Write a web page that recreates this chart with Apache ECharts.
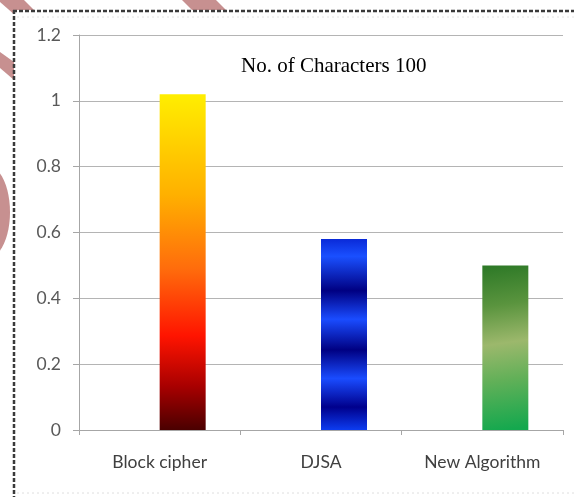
<!DOCTYPE html>
<html>
<head>
<meta charset="utf-8">
<script src="https://cdn.jsdelivr.net/npm/echarts@6/dist/echarts.min.js"></script>
<style>
  html, body { margin: 0; padding: 0; background: #ffffff; }
  #chart { width: 574px; height: 497px; }
</style>
</head>
<body>
<div id="chart"></div>
<script>
// Encryption time for 100 characters, per algorithm
const categories = ['Block cipher', 'DJSA', 'New Algorithm'];
const timeValues = [1.02, 0.58, 0.50];
const yTicks = [0, 0.2, 0.4, 0.6, 0.8, 1, 1.2];
const chartTitle = 'No. of Characters 100';

const pink = '#c79090';

// Per-bar fills
const fills = [
  { type: 'linear', x: 0, y: 0, x2: 0, y2: 1, colorStops: [
    { offset: 0, color: '#ffee00' },
    { offset: 0.3, color: '#ffb000' },
    { offset: 0.52, color: '#ff6c0c' },
    { offset: 0.72, color: '#ff1400' },
    { offset: 0.87, color: '#a80000' },
    { offset: 1, color: '#4a0000' }
  ]},
  { type: 'linear', x: 0, y: 0, x2: 0, y2: 1, colorStops: [
    { offset: 0, color: '#0a2ad8' },
    { offset: 0.09, color: '#1a50ff' },
    { offset: 0.27, color: '#000082' },
    { offset: 0.42, color: '#1a4cff' },
    { offset: 0.58, color: '#000082' },
    { offset: 0.73, color: '#1a4cff' },
    { offset: 0.88, color: '#00008c' },
    { offset: 1, color: '#0c3cf0' }
  ]},
  { type: 'linear', x: 0, y: 0, x2: 0.5, y2: 1, colorStops: [
    { offset: 0, color: '#2c7826' },
    { offset: 0.25, color: '#5a943e' },
    { offset: 0.48, color: '#9cb86c' },
    { offset: 0.7, color: '#62b058' },
    { offset: 1, color: '#14a84e' }
  ]}
];

const chart = echarts.init(document.getElementById('chart'), null, { renderer: 'canvas' });

chart.setOption({
  animation: false,
  backgroundColor: '#ffffff',
  graphic: [
    // page decoration outside the framed area
    { type: 'polygon', z: -10, shape: { points: [[0, 0], [24, 0], [40, 16], [16, 16], [0, 2]] }, style: { fill: pink } },
    { type: 'polygon', z: -10, shape: { points: [[0, 52], [14, 62], [14, 80], [0, 68]] }, style: { fill: pink } },
    { type: 'polygon', z: -10, shape: { points: [[182, 0], [216, 0], [228, 12], [194, 12]] }, style: { fill: pink } },
    { type: 'ellipse', z: -10, shape: { cx: -12, cy: 212, rx: 22, ry: 46 }, style: { fill: pink } },
    // white framed panel
    { type: 'rect', z: -5, shape: { x: 14, y: 10, width: 580, height: 500 }, style: { fill: '#ffffff' } },
    { type: 'line', z: -4, shape: { x1: 13, y1: 11, x2: 574, y2: 11 }, style: { stroke: '#3a3a3a', lineWidth: 2.5, lineDash: [4, 2] } },
    { type: 'line', z: -4, shape: { x1: 14, y1: 10, x2: 14, y2: 497 }, style: { stroke: '#3a3a3a', lineWidth: 2.5, lineDash: [4, 2] } },
    { type: 'line', z: -4, shape: { x1: 17, y1: 17, x2: 574, y2: 17 }, style: { stroke: '#e4e4e4', lineWidth: 1, lineDash: [2, 3] } },
    { type: 'line', z: -4, shape: { x1: 17, y1: 493, x2: 574, y2: 493 }, style: { stroke: '#dedede', lineWidth: 1, lineDash: [2, 3] } },
    // chart caption
    { type: 'text', z: 10, left: 241, top: 56, style: { text: chartTitle, font: '21px "Liberation Serif", serif', fill: '#000000' } }
  ],
  grid: { left: 79, right: 11, top: 35, bottom: 67, containLabel: false },
  xAxis: {
    type: 'category',
    data: categories,
    axisLine: { show: true, lineStyle: { color: '#a6a6a6', width: 1 } },
    axisTick: { show: true, length: 5, lineStyle: { color: '#a6a6a6' } },
    axisLabel: { margin: 23, color: '#404040', fontFamily: 'Lato', fontSize: 17.5 },
    splitLine: { show: false }
  },
  yAxis: {
    type: 'value',
    min: 0,
    max: 1.2,
    interval: 0.2,
    axisLine: { show: true, lineStyle: { color: '#a6a6a6', width: 1 } },
    axisTick: { show: true, length: 6, lineStyle: { color: '#a6a6a6' } },
    axisLabel: {
      margin: 18, color: '#595959', fontFamily: 'Lato', fontSize: 17.5,
      formatter: v => {
        const t = yTicks.find(k => Math.abs(k - v) < 1e-9);
        return t === undefined ? '' : String(t);
      }
    },
    splitLine: { show: true, lineStyle: { color: '#b4b4b4', width: 1 } }
  },
  series: [
    {
      // empty slot that shifts the data bars right of the category centre
      type: 'bar',
      data: categories.map(() => null),
      barWidth: 46,
      barGap: '0%',
      silent: true
    },
    {
      type: 'bar',
      barWidth: 46,
      barGap: '0%',
      data: timeValues.map((v, i) => ({ value: v, itemStyle: { color: fills[i] } }))
    }
  ]
});
</script>
</body>
</html>
